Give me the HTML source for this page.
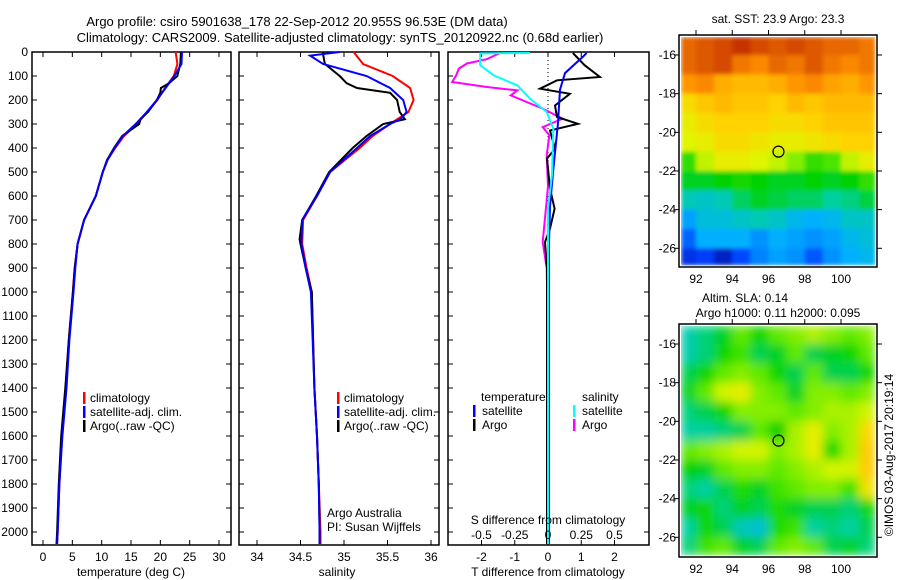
<!DOCTYPE html>
<html><head><meta charset="utf-8"><style>
body{margin:0;background:#fff}
svg{display:block;font-family:"Liberation Sans",sans-serif}
</style></head><body>
<svg id="c" width="900" height="580" viewBox="0 0 900 580" xmlns="http://www.w3.org/2000/svg">
<defs>
<filter id="blur1" x="0" y="0" width="1" height="1" primitiveUnits="userSpaceOnUse"><feGaussianBlur stdDeviation="2" edgeMode="duplicate"/></filter>
<filter id="blur2" x="0" y="0" width="1" height="1" primitiveUnits="userSpaceOnUse"><feGaussianBlur stdDeviation="5" edgeMode="duplicate"/></filter>
</defs>
<text x="297" y="26" font-size="13" text-anchor="middle">Argo profile: csiro 5901638_178 22-Sep-2012 20.955S 96.53E (DM data)</text>
<text x="340" y="42" font-size="13" text-anchor="middle">Climatology: CARS2009. Satellite-adjusted climatology: synTS_20120922.nc (0.68d earlier)</text>
</svg>
<script>
// ---------- data ----------
const depthT=[0,50,100,150,200,250,300,350,400,450,500,600,700,800,900,1000,1200,1400,1600,1800,2000,2050];
const climT=[22.6,22.9,22.3,20.8,19.5,17.8,16.0,13.8,12.3,11.0,10.2,9.0,7.0,5.9,5.4,5.1,4.4,3.9,3.2,2.8,2.5,2.4];
const satT=[23.7,23.6,22.4,20.9,19.4,17.7,15.8,13.6,12.2,11.0,10.2,9.0,7.0,5.9,5.5,5.2,4.5,4.0,3.3,2.8,2.5,2.4];
const argoTdepth=[0,50,90,100,130,150,170,200,250,280,300,350,400,450,500,600,700,800,900,1000,1200,1400,1600,1800,2000,2050];
const argoT=[23.5,23.4,23.0,22.9,21.5,20.1,20.0,19.4,17.9,16.6,16.4,13.5,12.1,10.9,10.2,9.0,7.0,5.9,5.4,5.1,4.4,3.8,3.1,2.7,2.4,2.3];
const depthS=[0,50,100,150,200,250,300,350,400,500,600,700,800,900,1000,1400,1600,1800,2000,2050];
const climS=[35.11,35.22,35.56,35.76,35.80,35.74,35.53,35.33,35.18,34.84,34.69,34.53,34.52,34.57,34.63,34.66,34.69,34.71,34.73,34.73];
const satSdepth=[0,15,50,100,150,200,250,280,300,350,400,500,600,700,800,900,1000,1400,1600,1800,2000,2050];
const satS=[34.95,34.61,34.76,35.26,35.53,35.68,35.72,35.65,35.53,35.30,35.15,34.84,34.69,34.52,34.51,34.56,34.62,34.66,34.69,34.71,34.72,34.72];
const argoSdepth=[0,10,50,100,130,150,170,200,250,280,300,350,400,500,600,700,780,800,900,1000,1400,1600,1800,2000,2050];
const argoS=[34.76,34.76,34.78,34.95,35.03,35.15,35.53,35.61,35.64,35.70,35.45,35.26,35.10,34.83,34.68,34.52,34.49,34.50,34.56,34.63,34.66,34.69,34.71,34.72,34.72];
const diffTsatDepth=[4,20,88,157,295,503,642,800,1200,1600,2050];
const diffTsat=[1.16,1.05,0.51,0.36,0.30,0.15,0.06,0.03,0.03,0.03,0.03];
const diffTargoDepth=[4,55,104,118,153,174,223,271,299,327,403,444,569,653,736,792,900,1200,1600,2050];
const diffTargo=[0.75,1.10,1.56,0.27,-0.24,0.66,0.21,0.27,0.90,0.06,0.21,-0.03,0.06,0.20,0.06,-0.09,-0.03,-0.03,-0.03,-0.03];
const diffSsatDepth=[4,6,55,97,139,194,250,319,513,650,1000,1600,2050];
const diffSsat=[-0.135,-0.51,-0.51,-0.41,-0.23,-0.135,-0.01,0.04,0.03,0.0,0.0,0.0,0.0];
const diffSargoDepth=[4,30,48,69,97,125,146,160,181,236,278,313,347,431,560,792,900,1200,2050];
const diffSargo=[-0.36,-0.46,-0.61,-0.67,-0.69,-0.72,-0.46,-0.23,-0.28,-0.04,0.11,-0.04,0.01,-0.01,0.0,-0.04,-0.01,0.0,0.0];
const depthTicks=[0,100,200,300,400,500,600,700,800,900,1000,1100,1200,1300,1400,1500,1600,1700,1800,1900,2000];
const tempTicks=[0,5,10,15,20,25,30];
const salTicks=[34,34.5,35,35.5,36];
const salTickLabels=["34","34.5","35","35.5","36"];
const tdiffTicks=[-2,-1,0,1,2];
const sdiffTicks=[-0.5,-0.25,0,0.25,0.5];
const sdiffLabels=["-0.5","-0.25","0","0.25","0.5"];
const lonTicks=[92,94,96,98,100];
const latTicks=[-16,-18,-20,-22,-24,-26];
const gridLon=[91,92,93,94,95,96,97,98,99,100,101];
const gridLat=[-15,-16,-17,-18,-19,-20,-21,-22,-23,-24,-25,-26];
const sst=[
[24.5,24.6,24.7,24.8,24.7,24.6,24.7,24.6,24.5,24.5,24.4],
[24.5,24.6,24.7,24.4,24.3,24.5,24.4,24.6,24.4,24.3,24.4],
[24.2,24.3,24.0,23.9,23.9,24.0,24.2,24.3,24.1,24.0,24.2],
[23.6,23.8,23.9,23.8,23.8,23.7,23.9,23.8,23.9,23.9,23.9],
[23.4,23.6,23.7,23.7,23.7,23.6,23.6,23.7,23.8,23.8,23.8],
[23.3,23.4,23.6,23.6,23.5,23.4,23.4,23.5,23.6,23.7,23.7],
[22.7,23.2,23.4,23.4,23.3,23.2,23.0,22.7,22.8,23.2,23.4],
[22.4,22.4,22.5,22.6,22.5,22.4,22.4,22.5,22.4,22.5,22.7],
[21.9,21.8,21.9,22.2,22.4,22.3,22.2,22.2,22.0,22.1,22.3],
[21.4,21.7,21.7,21.8,21.9,21.8,21.6,21.5,21.6,21.8,21.8],
[21.0,21.5,21.5,21.5,21.3,21.5,21.4,21.3,21.4,21.6,21.7],
[20.6,20.7,20.4,20.8,21.2,21.4,21.3,20.9,21.3,21.5,21.6]];
const sla=[
[0.05,0.08,0.12,0.20,0.15,0.20,0.22,0.24,0.22,0.20,0.22],
[0.05,0.08,0.15,0.18,0.10,0.12,0.20,0.10,0.12,0.15,0.20],
[0.10,0.15,0.20,0.22,0.20,0.15,0.10,0.20,0.10,0.10,0.15],
[0.12,0.20,0.26,0.28,0.22,0.20,0.12,0.22,0.22,0.20,0.22],
[0.08,0.10,0.15,0.22,0.22,0.22,0.20,0.22,0.24,0.24,0.26],
[0.06,0.06,0.08,0.10,0.20,0.14,0.24,0.28,0.22,0.24,0.32],
[0.20,0.22,0.24,0.26,0.26,0.22,0.24,0.28,0.16,0.24,0.34],
[0.14,0.12,0.20,0.22,0.22,0.20,0.22,0.24,0.26,0.26,0.34],
[0.08,0.06,0.10,0.16,0.12,0.18,0.20,0.22,0.22,0.18,0.30],
[0.12,0.15,0.08,0.12,0.10,0.16,0.12,0.10,0.10,0.08,0.15],
[0.06,0.15,0.10,0.04,0.02,0.16,0.18,0.06,0.08,0.06,0.10],
[0.08,0.18,0.20,0.12,0.10,0.20,0.22,0.20,0.10,0.12,0.08]];
const argoPos=[96.55,-21.0];

// ---------- helpers ----------
const svg=document.getElementById('c');
const NS='http://www.w3.org/2000/svg';
function mk(tag,attrs,parent){const e=document.createElementNS(NS,tag);for(const k in attrs)e.setAttribute(k,attrs[k]);(parent||svg).appendChild(e);return e;}
function txt(x,y,s,anchor,size,parent){const t=mk('text',{x:x,y:y,'font-size':size||12,'text-anchor':anchor||'start'},parent);t.textContent=s;return t;}
const Y0=52,YB=545;
const yD=d=>Y0+d*0.24;
const xT=t=>43+t*5.867;
const xS=s=>257+(s-34)*87;
const xTd=v=>548+v*33.25;
const xSd=v=>548+v*133;
function line(xs,ds,fx,color,name,w){
  const pts=xs.map((v,i)=>fx(v).toFixed(1)+','+yD(ds[i]).toFixed(1)).join(' ');
  const p=mk('polyline',{points:pts,fill:'none',stroke:color,'stroke-width':w||2});
  
  
}
function frame(x0,x1,name){
  const r=mk('rect',{x:x0,y:Y0,width:x1-x0,height:YB-Y0,fill:'none',stroke:'#000','stroke-width':1.5});
  
  
  depthTicks.forEach(d=>{mk('line',{x1:x0,x2:x0+5,y1:yD(d),y2:yD(d),stroke:'#000'});mk('line',{x1:x1-5,x2:x1,y1:yD(d),y2:yD(d),stroke:'#000'});});
}
function xticks(vals,fx){vals.forEach(v=>{mk('line',{x1:fx(v),x2:fx(v),y1:Y0,y2:Y0+5,stroke:'#000'});mk('line',{x1:fx(v),x2:fx(v),y1:YB-5,y2:YB,stroke:'#000'});});}
function legendBar(x,y,color){mk('rect',{x:x,y:y-10,width:2.5,height:12,fill:color});}

// ---------- panel 1 temperature ----------
frame(32,231,'temperature-panel');
xticks(tempTicks,xT);
depthTicks.forEach(d=>{const t=txt(28,yD(d)+4,String(d),'end');});
tempTicks.forEach(v=>txt(xT(v),561,String(v),'middle'));
const xl1=txt(131,576,'temperature (deg C)','middle');
line(climT,depthT,xT,'#ff0000','clim-temperature-line');
line(argoT,argoTdepth,xT,'#000','argo-temperature-line');
line(satT,depthT,xT,'#0000ff','sat-temperature-line');
[['#ff0000','climatology'],['#0000ff','satellite-adj. clim.'],['#000','Argo(..raw -QC)']].forEach((l,i)=>{legendBar(83,402+i*14,l[0]);const t=txt(90,402+i*14,l[1]);});

// ---------- panel 2 salinity ----------
frame(239,439,'salinity-panel');
xticks(salTicks,xS);
salTicks.forEach((v,i)=>txt(xS(v),561,salTickLabels[i],'middle'));
const xl2=txt(337,576,'salinity','middle');
line(climS,depthS,xS,'#ff0000','clim-salinity-line');
line(argoS,argoSdepth,xS,'#000','argo-salinity-line');
line(satS,satSdepth,xS,'#0000ff','sat-salinity-line');
[['#ff0000','climatology'],['#0000ff','satellite-adj. clim.'],['#000','Argo(..raw -QC)']].forEach((l,i)=>{legendBar(337,402+i*14,l[0]);const t=txt(344,402+i*14,l[1]);});
txt(327,517,'Argo Australia');
txt(327,531,'PI: Susan Wijffels');

// ---------- panel 3 differences ----------
frame(448,649,'difference-panel');
xticks(tdiffTicks,xTd);
mk('line',{x1:548,x2:548,y1:Y0,y2:YB,stroke:'#000','stroke-dasharray':'1,3'});
tdiffTicks.forEach(v=>txt(xTd(v),561,String(v),'middle'));
const xl3=txt(548,576,'T difference from climatology','middle');
line(diffSargo,diffSargoDepth,xSd,'#ff00ff','argo-salinity-diff-line');
line(diffTargo,diffTargoDepth,xTd,'#000','argo-temperature-diff-line');
line(diffTsat,diffTsatDepth,xTd,'#0000ff','sat-temperature-diff-line');
line(diffSsat,diffSsatDepth,xSd,'#00ffff','sat-salinity-diff-line');
txt(548,524,'S difference from climatology','middle');
sdiffTicks.forEach((v,i)=>txt(xSd(v),539,sdiffLabels[i],'middle'));
txt(481,401,'temperature');txt(582,401,'salinity');
legendBar(473,415,'#0000ff');txt(482,415,'satellite');
legendBar(473,429,'#000');txt(482,429,'Argo');
legendBar(573,415,'#00ffff');txt(582,415,'satellite');
legendBar(573,429,'#ff00ff');txt(582,429,'Argo');

// ---------- maps ----------
const stops=[[0,[0,0,128]],[0.15,[0,64,255]],[0.3,[0,176,255]],[0.4,[0,208,160]],[0.5,[0,210,0]],[0.58,[100,235,0]],[0.66,[224,245,0]],[0.74,[255,210,0]],[0.85,[255,144,0]],[0.95,[208,64,0]],[1,[160,0,0]]];
function cmap(t){t=Math.max(0,Math.min(1,t));for(let i=1;i<stops.length;i++){if(t<=stops[i][0]){const a=stops[i-1],b=stops[i],f=(t-a[0])/(b[0]-a[0]);return 'rgb('+a[1].map((c,k)=>Math.round(c+(b[1][k]-c)*f)).join(',')+')';}}return 'rgb(160,0,0)';}
function drawMap(y0,y1,vals,vmin,vmax,filt,name){
  const x0=679,x1=877;
  const xL=lon=>696+(lon-92)*18.125;
  const yL=lat=>(y0+20)+(-16-lat)*19.33;
  const g=mk('g',{filter:'url(#'+filt+')'});
  
  
  vals.forEach((row,r)=>row.forEach((v,c)=>{
    const lon=gridLon[c],lat=gridLat[r];
    const xa=Math.max(xL(lon),x0+2),xb=Math.min(xL(lon+1),x1-2);
    const ya=Math.max(yL(lat),y0+2),yb=Math.min(yL(lat-1),y1-2);
    mk('rect',{x:xa,y:ya,width:xb-xa+0.5,height:yb-ya+0.5,fill:cmap((v-vmin)/(vmax-vmin))},g);
  }));
  mk('rect',{x:x0,y:y0,width:x1-x0,height:y1-y0,fill:'none',stroke:'#000','stroke-width':1.5});
  lonTicks.forEach(l=>{mk('line',{x1:xL(l),x2:xL(l),y1:y0-5,y2:y0,stroke:'#000'});txt(xL(l),y1+16,String(l),'middle');});
  latTicks.forEach(l=>{mk('line',{x1:x0-5,x2:x0,y1:yL(l),y2:yL(l),stroke:'#000'});mk('line',{x1:x1,x2:x1+5,y1:yL(l),y2:yL(l),stroke:'#000'});txt(x0-3,yL(l)+4,String(l),'end');});
  const pt=mk('circle',{cx:xL(argoPos[0]),cy:yL(argoPos[1]),r:5.5,fill:'none',stroke:'#000','stroke-width':1.2});
  
  
}
drawMap(35,267,sst,20,25,'blur1','sst-map');
drawMap(324,557,sla,-0.26,0.54,'blur2','sla-map');
txt(778,23,'sat. SST: 23.9 Argo: 23.3','middle');
txt(745,302,'Altim. SLA: 0.14','middle');
txt(778,317,'Argo h1000: 0.11 h2000: 0.095','middle');
const cr=txt(0,0,'©IMOS 03-Aug-2017 20:19:14','middle');
cr.setAttribute('transform','translate(893,455) rotate(-90)');


</script>
</body></html>
